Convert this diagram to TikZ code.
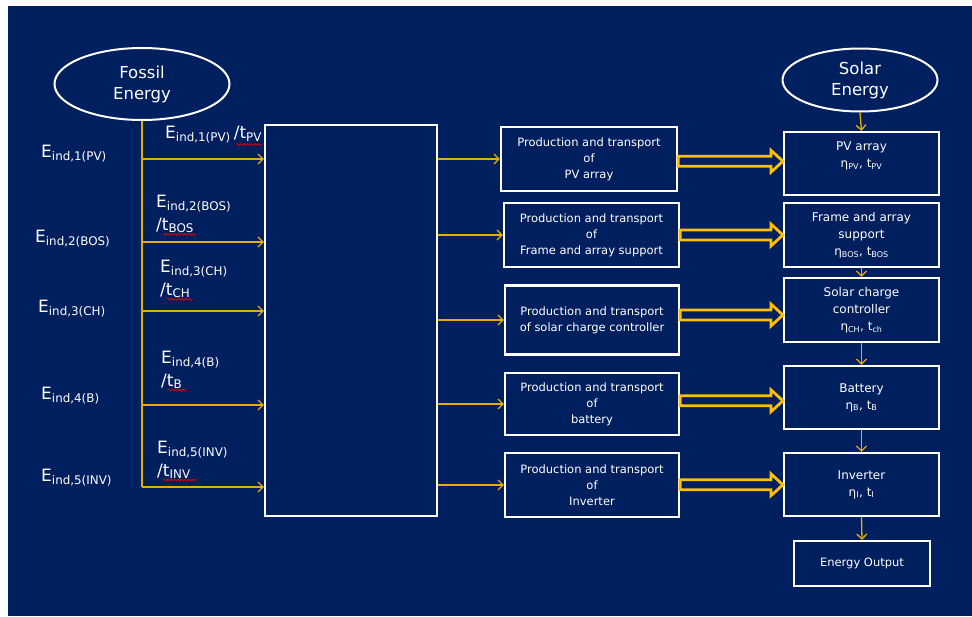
\documentclass[tikz,border=0pt]{standalone}
\usepackage{fontspec}
\setmainfont{DejaVu Sans}
\usetikzlibrary{arrows.meta,calc,shapes.geometric,decorations.pathmorphing}
\definecolor{navy}{RGB}{0,31,94}
\definecolor{amber}{RGB}{255,192,0}
\definecolor{gold}{RGB}{232,172,8}
\newcommand{\eff}[2]{{\fontsize{12}{14}\selectfont η\textsubscript{#1}, t\textsubscript{#2}}}
\tikzset{box/.style={draw=white,line width=2.2pt,text=white,align=center,inner sep=0pt,font=\fontsize{11.5}{16}\selectfont},
         unit/.style={box,minimum width=155pt,minimum height=63pt,font=\fontsize{12}{17}\selectfont}}
\tikzset{oval/.style={box,ellipse,line width=2pt,font=\fontsize{16.5}{21}\selectfont}}
\tikzset{note/.style={text=white,inner sep=0pt,align=left,anchor=north west,font=\fontsize{17}{22.5}\selectfont}}
\tikzset{feed/.style={gold,line width=1.3pt,-{Straight Barb[length=5pt,width=10pt]}},
         fat/.style={amber,line width=2.8pt,fill=navy,line join=miter,
           to path={let \p1=(\tikztostart),\p2=(\tikztotarget),\n1={0.5*\y1+0.5*\y2} in
             (\x1,{\n1+5pt}) -- ({\x2-12pt},{\n1+5pt}) -- ({\x2-12pt},{\n1+11pt}) -- (\x2,{\n1+0pt})
             -- ({\x2-12pt},{\n1-11pt}) -- ({\x2-12pt},{\n1-5pt}) -- (\x1,{\n1-5pt}) -- cycle}},
         squig/.style={red!85!black,line width=0.8pt,decorate,decoration={snake,amplitude=1pt,segment length=3.5pt}}}

\begin{document}
\begin{tikzpicture}[x=1pt,y=-1pt]
    \fill[navy] (8,6) rectangle (972,616);
    \useasboundingbox (0,0) rectangle (972,616);
    % energy sources
    \node[oval,minimum width=175pt,minimum height=72pt] (fossil) at (142,84) {Fossil\\Energy};
    \node[oval,minimum width=155pt,minimum height=63pt] (solar) at (860,80) {Solar\\Energy};
    \node[box,minimum width=172pt,minimum height=391pt] (core) at (351,320.5) {};
    % production and transport
    \node[box,minimum width=176pt,minimum height=64pt] (p1) at (589,159) {Production and transport\\of\\PV array};
    \node[box,minimum width=175pt,minimum height=64pt] (p2) at (591.5,235) {Production and transport\\of\\Frame and array support};
    \node[box,minimum width=174pt,minimum height=69pt] (p3) at (592,320) {Production and transport\\of solar charge controller};
    \node[box,minimum width=174pt,minimum height=62pt] (p4) at (592,404) {Production and transport\\of\\battery};
    \node[box,minimum width=174pt,minimum height=64pt] (p5) at (592,485) {Production and transport\\of\\Inverter};
    % system components
    \node[unit] (r1) at (861.5,163.5) {PV array\\\eff{PV}{PV}\\~};
    \node[unit,minimum height=64pt] (r2) at (861.5,235) {Frame and array\\support\\\eff{BOS}{BOS}};
    \node[unit,minimum height=64pt] (r3) at (861.5,310) {Solar charge\\controller\\\eff{CH}{ch}};
    \node[unit] (r4) at (861.5,397.5) {Battery\\\eff{B}{B}};
    \node[unit] (r5) at (861.5,484.5) {Inverter\\\eff{I}{I}};
    \node[box,minimum width=136pt,minimum height=45pt] (out) at (862,563.5) {Energy Output};
    % embodied energy labels
    \node[note] (l1) at (41,145) {E\textsubscript{ind,1(PV)}};
    \node[note] (l2) at (35,230) {E\textsubscript{ind,2(BOS)}};
    \node[note] (l3) at (38,300) {E\textsubscript{ind,3(CH)}};
    \node[note] (l4) at (41,387) {E\textsubscript{ind,4(B)}};
    \node[note] (l5) at (41,469) {E\textsubscript{ind,5(INV)}};
    \node[note] (u1) at (165,126) {E\textsubscript{ind,1(PV)}\kern3pt/t\textsubscript{PV}};
    \node[note] (u2) at (156,195) {E\textsubscript{ind,2(BOS)}\\/t\textsubscript{BOS}};
    \node[note] (u3) at (160,260) {E\textsubscript{ind,3(CH)}\\/t\textsubscript{CH}};
    \node[note] (u4) at (161,351) {E\textsubscript{ind,4(B)}\\/t\textsubscript{B}};
    \node[note] (u5) at (157,441) {E\textsubscript{ind,5(INV)}\\/t\textsubscript{INV}};
    \draw[squig] ([xshift=-26pt,yshift=-1pt]u1.south east) -- ([yshift=-1pt]u1.south east);
    \draw[squig] ([xshift=7pt,yshift=-1pt]u2.south west) -- ([xshift=40pt,yshift=-1pt]u2.south west);
    \draw[squig] ([xshift=7pt,yshift=-1pt]u3.south west) -- ([xshift=33pt,yshift=-1pt]u3.south west);
    \draw[squig] ([xshift=7pt,yshift=-1pt]u4.south west) -- ([xshift=26pt,yshift=-1pt]u4.south west);
    \draw[squig] ([xshift=6pt,yshift=-1pt]u5.south west) -- ([xshift=41pt,yshift=-1pt]u5.south west);
    % flows
    \draw[gold,line width=1.3pt] (fossil.south) -- (fossil.south |- 0,487);
    \foreach \y in {159,242,311,405,487}
      \draw[feed] (fossil.south |- 0,\y) -- (core.west |- 0,\y);
    \foreach \i in {1,...,5} {
      \draw[feed] (core.east |- p\i.west) -- (p\i.west);
      \draw[fat] (p\i.east) to (r\i.west);
    }
    \draw[feed] (solar.south) -- (r1.north);
    \foreach \a/\b in {r2/r3,r3/r4,r4/r5,r5/out}
      \draw[feed] (\a.south) -- (\b.north);
\end{tikzpicture}
\end{document}
